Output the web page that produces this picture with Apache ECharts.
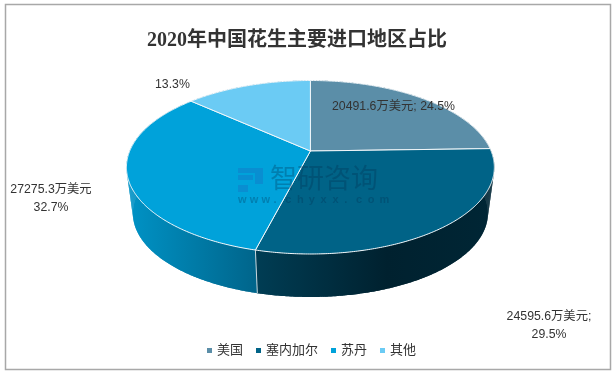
<!DOCTYPE html>
<html><head><meta charset="utf-8">
<style>html,body{margin:0;padding:0;background:#fff}#c{width:616px;height:375px}</style>
<script src="https://cdn.jsdelivr.net/npm/echarts@6/dist/echarts.min.js"></script>
</head><body><div id="c"></div>
<script>
const categories = ['美国','塞内加尔','苏丹','其他'];
const values = [20491.6, 24595.6, 27275.3, 11120];
const topColors = ['#5b8ea8','#006387','#00a2da','#6bcbf4'];
const sideStops = [
  [['#3d6f88',0],['#3d6f88',1]],
  [['#003d54',0],['#00212f',0.55],['#002635',1]],
  [['#0093c6',0],['#00658b',1]],
  [['#4a9cc0',0],['#4a9cc0',1]]
];
const sideRange = [[310,494],[256,494],[127,256],[127,310]];
const FONT = '"Liberation Sans","Noto Sans CJK SC",sans-serif';
const WATERMARK_URL = 'www.chyxx.com';

const total = values.reduce((a,b)=>a+b,0);
const P = {cx:310.4, cy:151, a:180.7, b:83.7, k:0.1873, s:0.965, by:197.6};
function proj(theta, bottom){
  const u=Math.sin(theta), v=Math.cos(theta), w=1+P.k*v;
  const s=bottom?P.s:1, cy=bottom?P.by:P.cy;
  return [P.cx+s*P.a*u/w, cy-s*P.b*v/w];
}
function arc(t0,t1,bottom){
  const pts=[], n=Math.max(2,Math.ceil(Math.abs(t1-t0)/0.01));
  for(let i=0;i<=n;i++) pts.push(proj(t0+(t1-t0)*i/n,bottom));
  return pts;
}
function span(i){
  const before=values.slice(0,i).reduce((a,b)=>a+b,0);
  return [before/total*2*Math.PI,(before+values[i])/total*2*Math.PI];
}
function renderTop(i){
  return function(){
    const [t0,t1]=span(i);
    return {type:'polygon',shape:{points:[[P.cx,P.cy]].concat(arc(t0,t1,false))},
      style:{fill:topColors[i],stroke:'#f2f7fa',lineWidth:1,lineJoin:'round'}};
  };
}
function renderSide(i){
  return function(){
    const [t0,t1]=span(i);
    const r=sideRange[i];
    const fill={type:'linear',x:r[0],y:0,x2:r[1],y2:0,global:true,
      colorStops:sideStops[i].map(s=>({color:s[0],offset:s[1]}))};
    const top=arc(t0,t1,false), bot=arc(t0,t1,true);
    const children=[{type:'polygon',shape:{points:top.concat(bot.slice().reverse())},style:{fill}}];
    for(let j=0;j<top.length-1;j+=1){
      children.push({type:'polygon',shape:{points:[top[j],top[j+1],bot[j+1],bot[j]]},style:{fill}});
    }
    if(Math.cos(t0)<0){
      const a=proj(t0,false), b=proj(t0,true);
      children.push({type:'line',shape:{x1:a[0],y1:a[1],x2:b[0],y2:b[1]},style:{stroke:'#c9d6dc',lineWidth:1}});
    }
    return {type:'group',children};
  };
}
const series=[];
categories.forEach((name,i)=>series.push({type:'custom',name,coordinateSystem:'none',z:2,silent:true,
  itemStyle:{color:topColors[i]},data:[values[i]],renderItem:renderSide(i)}));
categories.forEach((name,i)=>series.push({type:'custom',name,coordinateSystem:'none',z:3,silent:true,
  itemStyle:{color:topColors[i]},data:[values[i]],renderItem:renderTop(i)}));

function label(text,x,y,align){
  return {type:'text',z:10,x,y,style:{text,fill:'#333',font:'12.3px '+FONT,textAlign:align||'left',textVerticalAlign:'middle'}};
}
const logoFill='rgba(30,95,190,0.3)';
const wmFill='rgba(0,45,80,0.3)';
const wmChars=WATERMARK_URL.split('').map((c,i)=>({type:'text',z:9,x:238+i*11.8,y:200,
  style:{text:c,fill:wmFill,font:'bold 11px "Liberation Sans",sans-serif',textVerticalAlign:'middle'}}));
const chart=echarts.init(document.getElementById('c'),null,{renderer:'canvas'});
chart.setOption({
  animation:false,
  backgroundColor:'#fff',
  title:{text:'2020年中国花生主要进口地区占比',left:147,top:31,padding:0,
    textStyle:{fontSize:20,fontWeight:'bold',color:'#333',fontFamily:'"Liberation Serif","Noto Sans CJK SC",serif'}},
  legend:{left:207,top:344,padding:0,icon:'rect',itemWidth:5,itemHeight:5,itemGap:13,data:categories,
    selectedMode:false,textStyle:{fontSize:13,color:'#333',fontFamily:FONT}},
  series,
  graphic:[
    {type:'rect',z:0,shape:{x:5.5,y:4.5,width:605,height:365},style:{fill:'#fff',stroke:'#a8a8a8',lineWidth:1.5}},
    label('20491.6万美元; 24.5%',332,107),
    label('13.3%',155,85),
    label('27275.3万美元',51,190,'center'),
    label('32.7%',51,208,'center'),
    label('24595.6万美元;',549,317,'center'),
    label('29.5%',549,335,'center'),
    {type:'rect',z:9,shape:{x:238,y:168,width:25,height:5},style:{fill:logoFill}},
    {type:'rect',z:9,shape:{x:238,y:175,width:15,height:5},style:{fill:logoFill}},
    {type:'rect',z:9,shape:{x:255,y:173,width:8,height:11},style:{fill:logoFill}},
    {type:'rect',z:9,shape:{x:238,y:185,width:10,height:7},style:{fill:logoFill}},
    {type:'text',z:9,x:270,y:181,style:{text:'智研咨询',fill:wmFill,font:'27px '+FONT,textVerticalAlign:'middle'}}
  ].concat(wmChars)
});
</script></body></html>
